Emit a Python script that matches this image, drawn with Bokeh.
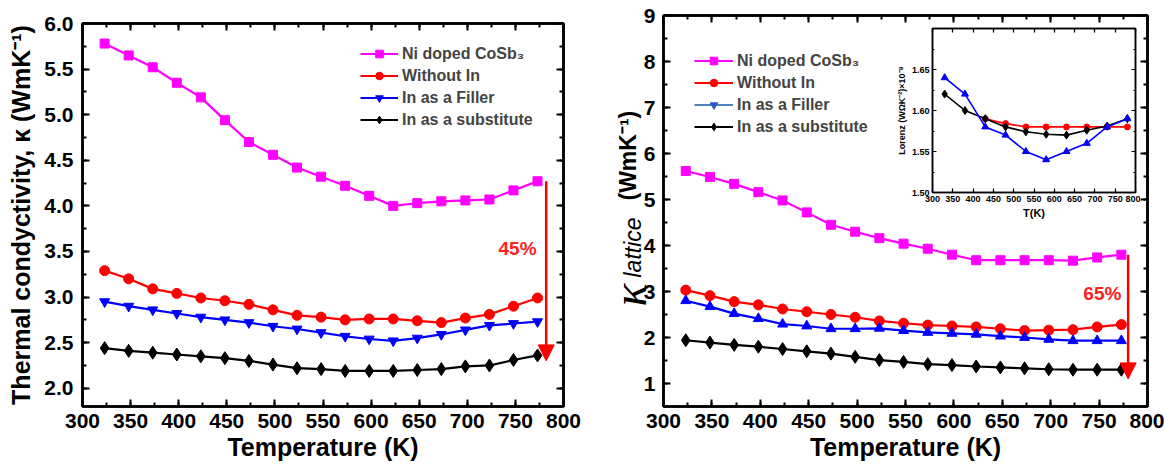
import math
from bokeh.plotting import figure
from bokeh.models import (Range1d, LinearAxis, SingleIntervalTicker, NumeralTickFormatter,
                          Legend, LegendItem, Label, Arrow, NormalHead, GridBox,
                          CustomLabelingPolicy)
from bokeh.core.properties import value
from bokeh.embed import file_html
from bokeh.resources import INLINE

# ---------------- data ----------------
temps = [323, 348, 373, 398, 423, 448, 473, 498, 523, 548, 573, 598, 623, 648, 673, 698, 723, 748, 773]

# total thermal conductivity (left panel)
k_ni = [5.78, 5.65, 5.52, 5.35, 5.19, 4.94, 4.70, 4.56, 4.42, 4.32, 4.22, 4.11, 4.00, 4.03, 4.05, 4.06, 4.07, 4.17, 4.27]
k_without = [3.29, 3.20, 3.09, 3.04, 2.99, 2.96, 2.92, 2.86, 2.80, 2.78, 2.75, 2.76, 2.76, 2.74, 2.72, 2.77, 2.81, 2.90, 2.99]
k_filler = [2.95, 2.90, 2.86, 2.82, 2.78, 2.75, 2.72, 2.68, 2.65, 2.61, 2.57, 2.54, 2.52, 2.55, 2.59, 2.64, 2.69, 2.71, 2.73]
k_sub = [2.44, 2.41, 2.39, 2.37, 2.35, 2.33, 2.30, 2.26, 2.22, 2.21, 2.19, 2.19, 2.19, 2.20, 2.21, 2.24, 2.25, 2.31, 2.36]

# lattice thermal conductivity (right panel)
kl_ni = [5.62, 5.49, 5.34, 5.16, 4.98, 4.72, 4.45, 4.30, 4.16, 4.04, 3.93, 3.80, 3.68, 3.68, 3.68, 3.68, 3.67, 3.74, 3.80]
kl_without = [3.03, 2.91, 2.78, 2.71, 2.62, 2.56, 2.50, 2.44, 2.36, 2.31, 2.27, 2.25, 2.23, 2.19, 2.15, 2.16, 2.17, 2.23, 2.28]
kl_filler = [2.80, 2.67, 2.52, 2.41, 2.29, 2.25, 2.19, 2.19, 2.20, 2.15, 2.11, 2.09, 2.07, 2.03, 2.00, 1.96, 1.93, 1.93, 1.93]
kl_sub = [1.94, 1.89, 1.84, 1.80, 1.75, 1.70, 1.65, 1.58, 1.51, 1.47, 1.42, 1.40, 1.37, 1.35, 1.33, 1.31, 1.30, 1.30, 1.30]

# inset: Lorenz number
t_inset = [330, 380, 430, 480, 530, 580, 630, 680, 730, 780]
t_inset_red = [430, 480, 530, 580, 630, 680, 730, 780]
L_without = [1.590, 1.584, 1.580, 1.580, 1.580, 1.580, 1.580, 1.580]
L_filler = [1.640, 1.620, 1.580, 1.570, 1.550, 1.540, 1.550, 1.560, 1.580, 1.590]
L_sub = [1.620, 1.600, 1.590, 1.580, 1.574, 1.571, 1.570, 1.576, 1.581, 1.590]

labels = ["Ni doped CoSb\u2083", "Without In", "In as a Filler", "In as a substitute"]
colors = ["#ff00ff", "#ff0000", "#0000ff", "#000000"]

FONT = "Liberation Sans"
HIDE_LABELS = "const n = indices.size; for (let i = 0; i < n; i++) { indices.unset(i) } return indices"


def style_axis(ax, tick_px, label_px=None, major_in=7, minor_in=4, lw=2.5, show_labels=True,
               lab_stand=5, axlab_stand=4):
    ax.axis_line_width = lw
    ax.axis_line_color = "black"
    ax.major_tick_in = major_in
    ax.major_tick_out = 0
    ax.minor_tick_in = minor_in
    ax.minor_tick_out = 0
    ax.major_tick_line_width = 2 if lw > 2 else 1.2
    ax.minor_tick_line_width = 2 if lw > 2 else 1.2
    ax.major_tick_line_color = "black"
    ax.minor_tick_line_color = "black"
    ax.major_label_text_font = FONT
    ax.major_label_text_font_style = "bold"
    ax.major_label_text_color = "black"
    ax.major_label_standoff = lab_stand
    if show_labels:
        ax.major_label_text_font_size = f"{tick_px}px"
    else:
        ax.major_label_text_font_size = "1px"
        ax.major_label_policy = CustomLabelingPolicy(code=HIDE_LABELS)
    if label_px:
        ax.axis_label_text_font = FONT
        ax.axis_label_text_font_style = "bold"
        ax.axis_label_text_font_size = f"{label_px}px"
        ax.axis_label_text_color = "black"
        ax.axis_label_standoff = axlab_stand


def make_panel(width, height, yr, y_interval, y_fmt, mb_left, mb_right, mb_top, mb_bottom, ylab_stand):
    p = figure(width=width, height=height, x_range=Range1d(300, 800), y_range=Range1d(*yr),
               output_backend="svg", toolbar_location=None, title=None,
               min_border_left=mb_left, min_border_right=mb_right,
               min_border_top=mb_top, min_border_bottom=mb_bottom,
               background_fill_color="white", border_fill_color="white")
    p.frame_align = False
    p.xgrid.visible = False
    p.ygrid.visible = False
    p.outline_line_color = "black"
    p.outline_line_width = 2.5
    xa = p.xaxis[0]
    ya = p.yaxis[0]
    xa.ticker = SingleIntervalTicker(interval=50, num_minor_ticks=2)
    ya.ticker = SingleIntervalTicker(interval=y_interval, num_minor_ticks=2)
    ya.formatter = NumeralTickFormatter(format=y_fmt)
    style_axis(xa, 21, 25, lab_stand=7, axlab_stand=2)
    style_axis(ya, 21, 25, lab_stand=ylab_stand, axlab_stand=6)
    top = LinearAxis(ticker=SingleIntervalTicker(interval=50, num_minor_ticks=2))
    right = LinearAxis(ticker=SingleIntervalTicker(interval=y_interval, num_minor_ticks=2))
    style_axis(top, 21, show_labels=False, lab_stand=0)
    style_axis(right, 21, show_labels=False, lab_stand=0)
    p.add_layout(top, "above")
    p.add_layout(right, "right")
    return p, xa, ya


def add_series(p, x, ys, markers, sizes):
    rends = []
    for y, col, mk, sz in zip(ys, colors, markers, sizes):
        l = p.line(x, y, line_color=col, line_width=2.2)
        s = p.scatter(x, y, marker=mk, size=sz, fill_color=col, line_color=col)
        rends.append([l, s])
    return rends


def make_legend(items, loc, font_px, glyph_w):
    return Legend(items=[LegendItem(label=lab, renderers=r) for lab, r in zip(labels, items)],
                  location=loc, border_line_color=None, background_fill_alpha=0,
                  padding=0, margin=0, spacing=3, glyph_width=glyph_w, glyph_height=19,
                  label_height=19, label_standoff=4,
                  label_text_font=FONT, label_text_font_style="bold",
                  label_text_font_size=f"{font_px}px")


H = 470

# ---------------- left panel ----------------
p1, p1x, p1y = make_panel(598, H, (1.8, 6.0), 0.5, "0.0", 82, 35, 23, 64, 9)
p1x.axis_label = "Temperature (K)"
p1y.axis_label = "Thermal condyctivity, \u03ba (WmK\u207b\u00b9)"
r1 = add_series(p1, temps, [k_ni, k_without, k_filler, k_sub],
                ["square", "circle", "inverted_triangle", "diamond"], [9, 10, 10, 13])
p1.add_layout(make_legend(r1, (278, 277), 16, 38))
p1.add_layout(Arrow(end=NormalHead(size=16, fill_color="#ff0000", line_color="#ff0000"),
                    x_start=782, y_start=4.27, x_end=782, y_end=2.30,
                    line_color="#ff0000", line_width=2.5))
p1.add_layout(Label(x=772, y=3.53, text="45%", text_align="right", text_baseline="middle",
                    text_font=FONT, text_font_style="bold", text_font_size="19px",
                    text_color="#ff2020"))

# ---------------- right panel ----------------
p2, p2x, p2y = make_panel(524, H, (0.5, 9.0), 1, "0", 23, 17, 15, 64, 8)
p2x.axis_label = "Temperature (K)"
r2 = add_series(p2, temps, [kl_ni, kl_without, kl_filler, kl_sub],
                ["square", "circle", "triangle", "diamond"], [9, 10, 10, 13])
# the original legend shows the filler entry with a down triangle on a steel-blue line
dl = p2.line(temps, kl_filler, line_color="#4f81bd", line_width=2.2, visible=False)
ds = p2.scatter(temps, kl_filler, marker="inverted_triangle", size=10,
                fill_color="#3355cc", line_color="#3355cc", visible=False)
p2.add_layout(make_legend([r2[0], r2[1], [dl, ds], r2[3]], (31, 270), 16, 39))
p2.add_layout(Arrow(end=NormalHead(size=16, fill_color="#ff0000", line_color="#ff0000"),
                    x_start=780, y_start=3.80, x_end=780, y_end=1.10,
                    line_color="#ff0000", line_width=2.5))
p2.add_layout(Label(x=773, y=2.95, text="65%", text_align="right", text_baseline="middle",
                    text_font=FONT, text_font_style="bold", text_font_size="19px",
                    text_color="#ff2020"))

# composite y-axis title of the right panel: kappa_lattice (WmK^-1), on a transparent strip
# laid over the left margin of the right panel (strip pixels, origin bottom-left)
p4 = figure(width=62, height=H, x_range=Range1d(0, 62), y_range=Range1d(0, H),
            x_axis_type=None, y_axis_type=None, output_backend="svg", toolbar_location=None,
            title=None, min_border=0, background_fill_color=None, border_fill_color=None,
            outline_line_color=None)
p4.frame_align = False
p4.text(x=[31], y=[164], text=["\u03ba"], angle=math.pi / 2, text_align="left",
        text_baseline="alphabetic", text_font=value("Liberation Serif"),
        text_font_style="italic", text_font_size="48px", text_color="black")
p4.text(x=[34], y=[193], text=["lattice"], angle=math.pi / 2, text_align="left",
        text_baseline="alphabetic", text_font=value(FONT),
        text_font_style="italic", text_font_size="23px", text_color="black")
p4.text(x=[29], y=[270], text=["(WmK\u207b\u00b9)"], angle=math.pi / 2, text_align="left",
        text_baseline="alphabetic", text_font=value(FONT),
        text_font_style="bold", text_font_size="23px", text_color="black")

# ---------------- inset ----------------
p3 = figure(width=247, height=203, x_range=Range1d(300, 800), y_range=Range1d(1.50, 1.70),
            output_backend="svg", toolbar_location=None, title=None,
            min_border_left=36, min_border_right=5, min_border_top=6, min_border_bottom=33,
            background_fill_color="white", border_fill_color=None)
p3.frame_align = False
p3.xgrid.visible = False
p3.ygrid.visible = False
p3.outline_line_color = "black"
p3.outline_line_width = 1.5
p3x = p3.xaxis[0]
p3y = p3.yaxis[0]
p3x.ticker = SingleIntervalTicker(interval=50, num_minor_ticks=1)
p3y.ticker = SingleIntervalTicker(interval=0.05, num_minor_ticks=2)
p3y.formatter = NumeralTickFormatter(format="0.00")
style_axis(p3x, 9, 11, major_in=4, minor_in=2, lw=1.5, lab_stand=3, axlab_stand=2)
style_axis(p3y, 9, 9, major_in=4, minor_in=2, lw=1.5, lab_stand=3, axlab_stand=2)
p3x.axis_label = "T(K)"
p3y.axis_label = "Lorenz (W\u03a9K\u207b\u00b2)\u00d710\u207b\u2078"
t3 = LinearAxis(ticker=SingleIntervalTicker(interval=50, num_minor_ticks=1))
r3 = LinearAxis(ticker=SingleIntervalTicker(interval=0.05, num_minor_ticks=2))
style_axis(t3, 9, major_in=4, minor_in=2, lw=1.5, show_labels=False, lab_stand=0)
style_axis(r3, 9, major_in=4, minor_in=2, lw=1.5, show_labels=False, lab_stand=0)
p3.add_layout(t3, "above")
p3.add_layout(r3, "right")
p3.line(t_inset_red, L_without, line_color="#ff0000", line_width=1.6)
p3.scatter(t_inset_red, L_without, marker="circle", size=6, fill_color="#ff0000", line_color="#ff0000")
p3.line(t_inset, L_sub, line_color="#000000", line_width=1.6)
p3.scatter(t_inset, L_sub, marker="diamond", size=8, fill_color="#000000", line_color="#000000")
p3.line(t_inset, L_filler, line_color="#0000ff", line_width=1.6)
p3.scatter(t_inset, L_filler, marker="triangle", size=7, fill_color="#0000ff", line_color="#0000ff")

grid = GridBox(children=[(p1, 0, 0, 3, 1), (p2, 0, 2, 3, 4), (p4, 0, 1, 3, 2), (p3, 1, 4, 1, 1)],
               rows=["22px", "203px", f"{H - 225}px"],
               cols=["598px", "42px", "20px", "233px", "247px", "24px"],
               spacing=0)

open("out.html", "w").write(file_html(grid, INLINE))
